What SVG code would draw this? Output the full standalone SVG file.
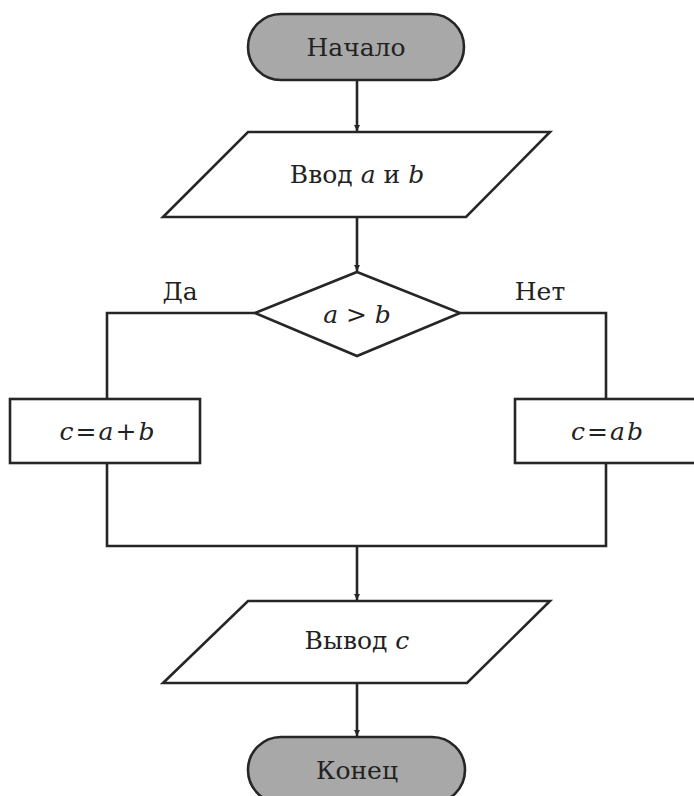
<svg xmlns="http://www.w3.org/2000/svg" width="694" height="796" viewBox="0 0 694 796">
<style>
.s{fill:#fff;stroke:#262626;stroke-width:2.6}
.t{fill:#a8a8a8;stroke:#262626;stroke-width:2.6}
.c{fill:none;stroke:#262626;stroke-width:2.6}
text{font-family:"DejaVu Serif","Liberation Serif",serif;font-size:25px;fill:#222;text-anchor:middle}
.i{font-style:italic}
.eq{font-style:italic;letter-spacing:2px}
</style>
<defs>
<marker id="ar" viewBox="0 0 10 10" refX="10" refY="5" markerWidth="2.5" markerHeight="3" orient="auto" markerUnits="strokeWidth">
<path d="M0,0 L10,5 L0,10 z" fill="#262626"/>
</marker>
</defs>
<rect width="694" height="796" fill="#fff"/>
<g id="connectors">
<path class="c" d="M357,80 V131" marker-end="url(#ar)"/>
<path class="c" d="M357,217 V271" marker-end="url(#ar)"/>
<path class="c" d="M255,313 H107 V399"/>
<path class="c" d="M460,313 H606 V399"/>
<path class="c" d="M107,463 V546 H606 V463"/>
<path class="c" d="M357,546 V600" marker-end="url(#ar)"/>
<path class="c" d="M357,683 V736" marker-end="url(#ar)"/>
</g>
<g id="start">
<rect class="t" x="248" y="14" width="216" height="66" rx="33"/>
<text x="356" y="56">Начало</text>
</g>
<g id="input">
<polygon class="s" points="248,132 550,132 466,217 163,217"/>
<text x="357" y="183">Ввод <tspan class="i">a</tspan> и <tspan class="i">b</tspan></text>
</g>
<g id="decision">
<polygon class="s" points="357,272 460,313 357,356 255,313"/>
<text class="i" x="357" y="323">a &gt; b</text>
</g>
<g id="label-yes"><text x="180" y="300">Да</text></g>
<g id="label-no"><text x="540" y="300">Нет</text></g>
<g id="sum">
<rect class="s" x="10" y="399" width="190" height="64"/>
<text class="eq" x="108" y="440">c=a+b</text>
</g>
<g id="product">
<rect class="s" x="515" y="399" width="190" height="64"/>
<text class="eq" x="608" y="440">c=ab</text>
</g>
<g id="output">
<polygon class="s" points="248,601 550,601 467,683 163,683"/>
<text x="357" y="649">Вывод <tspan class="i">c</tspan></text>
</g>
<g id="end">
<rect class="t" x="248" y="737" width="217" height="66" rx="33"/>
<text x="357" y="779">Конец</text>
</g>
</svg>
